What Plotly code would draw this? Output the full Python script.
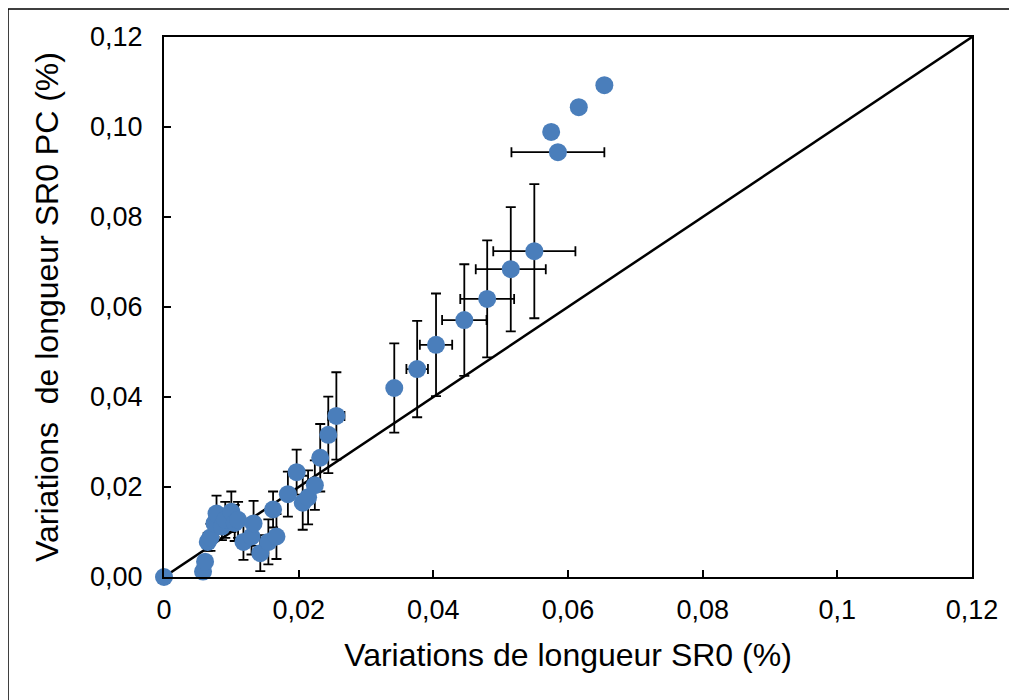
import plotly.graph_objects as go

# variations de longueur SR0 (%) vs SR0 PC (%)
sr0 = [0, 0.0058, 0.0061, 0.0065, 0.0069, 0.0075, 0.0078, 0.0086, 0.0091, 0.0100,
       0.0105, 0.0110, 0.0118, 0.0130, 0.0133, 0.0143, 0.0155, 0.0167, 0.0162, 0.0184,
       0.0206, 0.0214, 0.0224, 0.0197, 0.0232, 0.0244, 0.0256, 0.0342, 0.0376, 0.0404,
       0.0446, 0.0480, 0.0515, 0.0550, 0.0585, 0.0575, 0.0616, 0.0654]
sr0_pc = [0, 0.0012, 0.0034, 0.0078, 0.0088, 0.0119, 0.0141, 0.0112, 0.0127, 0.0145,
          0.0120, 0.0127, 0.0078, 0.0090, 0.0119, 0.0053, 0.0078, 0.0090, 0.0150, 0.0184,
          0.0165, 0.0177, 0.0204, 0.0233, 0.0265, 0.0316, 0.0358, 0.0420, 0.0462, 0.0516,
          0.0571, 0.0618, 0.0684, 0.0724, 0.0944, 0.0989, 0.1044, 0.1093]
err_pc = [0, 0, 0, 0.002, 0.003, 0.003, 0.004, 0.003, 0.004, 0.0045,
          0.004, 0.004, 0.004, 0.004, 0.005, 0.004, 0.005, 0.005, 0.004, 0.005,
          0.006, 0.006, 0.0055, 0.005, 0.0075, 0.0085, 0.0097, 0.0099, 0.0107, 0.0114,
          0.0124, 0.013, 0.0138, 0.0149, 0, 0, 0, 0]
err_sr0 = [0, 0, 0, 0, 0, 0, 0, 0, 0.0008, 0.0008,
           0, 0.0008, 0, 0, 0.0008, 0, 0, 0, 0, 0,
           0, 0, 0.0008, 0, 0.0008, 0.001, 0.0012, 0, 0.0016, 0.0024,
           0.0033, 0.004, 0.0052, 0.0061, 0.0069, 0, 0, 0]

xticks = [0, 0.02, 0.04, 0.06, 0.08, 0.1, 0.12]
xticktext = ['0', '0,02', '0,04', '0,06', '0,08', '0,1', '0,12']
yticks = [0, 0.02, 0.04, 0.06, 0.08, 0.10, 0.12]
yticktext = ['0,00', '0,02', '0,04', '0,06', '0,08', '0,10', '0,12']

fig = go.Figure()
fig.add_trace(go.Scatter(x=[0, 0.12], y=[0, 0.12], mode='lines',
                         line=dict(color='black', width=2.5), hoverinfo='skip'))
fig.add_trace(go.Scatter(
    x=sr0, y=sr0_pc, mode='markers', cliponaxis=False,
    marker=dict(color='#4a7ebb', size=18),
    error_y=dict(type='data', array=err_pc, color='black', thickness=1.8, width=5),
    error_x=dict(type='data', array=err_sr0, color='black', thickness=1.8, width=5),
))

axis_font = dict(family='Liberation Sans, Arial, sans-serif', size=27, color='black')
title_font = dict(family='Liberation Sans, Arial, sans-serif', size=32, color='black')
# page body adds 8px, so the figure is 8px smaller than the window
fig.update_layout(
    width=1009, height=692, showlegend=False,
    plot_bgcolor='white', paper_bgcolor='white',
    margin=dict(l=156, r=45, t=29, b=123),
    font=dict(family='Liberation Sans, Arial, sans-serif', color='black'),
    xaxis=dict(range=[0, 0.12], tickvals=xticks, ticktext=xticktext,
               ticks='inside', ticklen=7, tickcolor='black', tickwidth=1.5,
               ticklabelstandoff=8,
               showline=True, linecolor='black', linewidth=2, mirror=True,
               showgrid=False, zeroline=False, tickfont=axis_font,
               title=dict(text='Variations de longueur SR0 (%)',
                          font=title_font, standoff=19)),
    yaxis=dict(range=[0, 0.12], tickvals=yticks, ticktext=yticktext,
               ticks='inside', ticklen=7, tickcolor='black', tickwidth=1.5,
               ticklabelstandoff=14,
               showline=True, linecolor='black', linewidth=2, mirror=True,
               showgrid=False, zeroline=False, tickfont=axis_font,
               title=dict(text='Variations  de longueur SR0 PC (%)',
                          font=title_font, standoff=22)),
)
# outer chart border
fig.add_shape(type='rect', xref='paper', yref='paper',
              x0=-156 / 808, x1=(1009 - 156 + 20) / 808,
              y0=-140 / 540, y1=1 + 28 / 540,
              line=dict(color='black', width=1.5), layer='below')

fig.write_html("out.html")
